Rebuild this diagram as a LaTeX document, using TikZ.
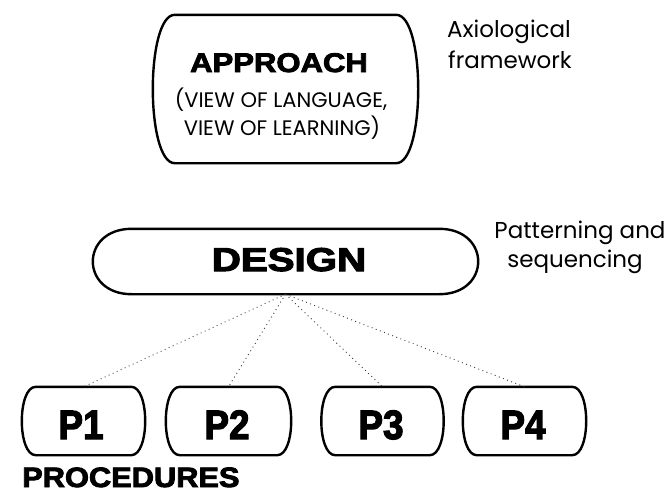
\documentclass[tikz,border=0pt]{standalone}
\usepackage{fontspec}
\usepackage{graphicx}
\setmainfont{Poppins}
\newfontfamily\heavy[BoldFeatures={FakeBold=3}]{Liberation Sans}
\newfontfamily\thin{Poppins}
\newcommand\bowbox[2]{%
  \draw[boxline] ([xshift=#2]#1.north west) -- ([xshift=-#2]#1.north east)
    .. controls ([xshift=#2/3]#1.north east) and ([xshift=#2/3]#1.south east) .. ([xshift=-#2]#1.south east)
    -- ([xshift=#2]#1.south west)
    .. controls ([xshift=-#2/3]#1.south west) and ([xshift=-#2/3]#1.north west) .. cycle;}
\begin{document}
\begin{tikzpicture}[x=1pt,y=-1pt,
  boxline/.style={line width=2.4pt,black},
  frame/.style={shape=rectangle,inner sep=0pt},
  dots/.style={line width=0.9pt,dash pattern=on 0.9pt off 3.5pt,black!80},
  bigtxt/.style={font=\heavy\bfseries\fontsize{#1}{#1}\selectfont,anchor=base,inner sep=0pt},
  thintxt/.style={font=\thin\fontsize{#1}{#1}\selectfont,anchor=base,inner sep=0pt}]
\useasboundingbox (0,0) rectangle (671,496);
% boxes
\node[frame,minimum width=265pt,minimum height=148pt] (approach) at (285.5,89) {};
\node[frame,minimum width=385pt,minimum height=65pt] (design) at (285.5,261.5) {};
\node[frame,minimum width=123pt,minimum height=68pt] (p1) at (83.5,421) {};
\node[frame,minimum width=125pt,minimum height=68pt] (p2) at (228.5,421) {};
\node[frame,minimum width=122pt,minimum height=68pt] (p3) at (382.5,421) {};
\node[frame,minimum width=123pt,minimum height=68pt] (p4) at (524.5,421) {};
\bowbox{approach}{22}
\bowbox{design}{39}
\bowbox{p1}{14}
\bowbox{p2}{14}
\bowbox{p3}{14}
\bowbox{p4}{14}
% texts
\node[bigtxt=27] (tA) at (279,72) {\scalebox{1.15}[1]{APPROACH}};
\node[thintxt=21] (tA2) at (281,107) {(VIEW OF LANGUAGE,};
\node[thintxt=21] (tA3) at (282,135) {VIEW OF LEARNING)};
\node[bigtxt=33] (tD) at (289,271) {\scalebox{1.22}[1]{DESIGN}};
\node[bigtxt=41] (t1) at (81,439) {\scalebox{0.9}[1]{P1}};
\node[bigtxt=41] (t2) at (227,439) {\scalebox{0.9}[1]{P2}};
\node[bigtxt=41] (t3) at (381,439) {\scalebox{0.9}[1]{P3}};
\node[bigtxt=41] (t4) at (523,439) {\scalebox{0.9}[1]{P4}};
\node[font=\heavy\bfseries\fontsize{28}{28}\selectfont,anchor=base west,inner sep=0pt] (proc) at (22,487) {\scalebox{1.1}[1]{PROCEDURES}};
\node[thintxt=23] (ax1) at (509,37) {Axiological};
\node[thintxt=23] (ax2) at (510,68) {framework};
\node[thintxt=23] (pa1) at (580,238) {Patterning and};
\node[thintxt=23] (pa2) at (575,267) {sequencing};
% connectors
\foreach \p in {p1,p2,p3,p4}
  \draw[dots] (design.south) -- (\p.north);
\end{tikzpicture}
\end{document}
